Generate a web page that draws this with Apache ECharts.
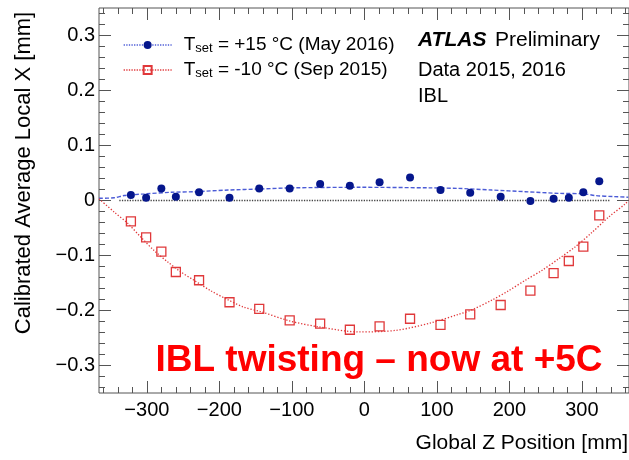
<!DOCTYPE html>
<html>
<head>
<meta charset="utf-8">
<script src="https://cdn.jsdelivr.net/npm/echarts@6/dist/echarts.min.js"></script>
<style>
  html, body { margin: 0; padding: 0; background: #fff; }
  #chart { width: 629px; height: 460px; }
</style>
</head>
<body>
<div id="chart"></div>
<script>
// module positions along the stave (mm)
const zPos = [-322, -301, -280, -260, -228, -186, -145, -103, -61, -20, 21, 63, 105, 146, 188, 229, 261, 282, 302, 324];
// calibrated average local X (mm)
const may2016 = [0.010, 0.005, 0.022, 0.007, 0.015, 0.005, 0.022, 0.022, 0.030, 0.027, 0.033, 0.042, 0.019, 0.014, 0.007, -0.001, 0.003, 0.005, 0.015, 0.035];
const sep2015 = [-0.038, -0.067, -0.093, -0.130, -0.145, -0.185, -0.197, -0.218, -0.224, -0.235, -0.229, -0.215, -0.226, -0.207, -0.190, -0.164, -0.132, -0.110, -0.084, -0.027];

// fit curves
const fitZ15 = [-366, -345, -331, -303, -266, -234, -188, -142, -99, -7, 90, 130, 176, 222, 268, 304, 318, 345, 364];
const fitX15 = [0.004, 0.005, 0.009, 0.012, 0.015, 0.016, 0.019, 0.021, 0.023, 0.024, 0.023, 0.022, 0.019, 0.016, 0.013, 0.012, 0.009, 0.007, 0.006];
const fitZ10 = [-366, -345, -326, -308, -290, -271, -253, -235, -212, -189, -166, -143, -103, -62, -7, 44, 90, 130, 148, 176, 199, 222, 245, 268, 291, 314, 337, 360, 364];
const fitX10 = [0.003, -0.021, -0.042, -0.067, -0.091, -0.112, -0.130, -0.145, -0.164, -0.180, -0.194, -0.202, -0.219, -0.230, -0.239, -0.236, -0.223, -0.207, -0.199, -0.181, -0.164, -0.145, -0.127, -0.106, -0.084, -0.058, -0.030, -0.006, 0.000];
const zeroZ = [-338, 338];

// axis ticks
const xMajor = [-300, -200, -100, 0, 100, 200, 300];
const xMinor = [-360, -340, -320, -280, -260, -240, -220, -180, -160, -140, -120, -80, -60, -40, -20,
                20, 40, 60, 80, 120, 140, 160, 180, 220, 240, 260, 280, 320, 340, 360];
const yMajor = [-0.3, -0.2, -0.1, 0, 0.1, 0.2, 0.3];
const yMinor = [-0.34, -0.32, -0.28, -0.26, -0.24, -0.22, -0.18, -0.16, -0.14, -0.12, -0.08, -0.06, -0.04, -0.02,
                0.02, 0.04, 0.06, 0.08, 0.12, 0.14, 0.16, 0.18, 0.22, 0.24, 0.26, 0.28, 0.32, 0.34];

const nameMay = 'Tset = +15 °C (May 2016)';
const nameSep = 'Tset = -10 °C (Sep 2015)';

const FONT = '"Liberation Sans", Arial, Helvetica, sans-serif';
const frameColor = '#555';
const blueDot = '#05168c';
const blueFit = '#4b5bd6';
const redSq = '#e0383a';

const chart = echarts.init(document.getElementById('chart'), null, {renderer: 'canvas'});

function xAx(pos, ticks, len, labels) {
    return {
        type: 'value', min: -366, max: 365, position: pos,
        axisLine: {show: false, onZero: false}, splitLine: {show: false},
        axisTick: {show: true, inside: true, length: len, customValues: ticks,
                   lineStyle: {color: frameColor, width: 1}},
        axisLabel: labels ? {
            show: true, customValues: ticks, margin: 7, color: '#000',
            fontSize: 20, fontFamily: FONT,
            formatter: v => String(v).replace('-', '\u2212')
        } : {show: false}
    };
}
function yAx(pos, ticks, len, labels) {
    return {
        type: 'value', min: -0.35, max: 0.35, position: pos,
        axisLine: {show: false, onZero: false}, splitLine: {show: false},
        axisTick: {show: true, inside: true, length: len, customValues: ticks,
                   lineStyle: {color: frameColor, width: 1}},
        axisLabel: labels ? {
            show: true, customValues: ticks, margin: 4, color: '#000',
            fontSize: 20, fontFamily: FONT,
            formatter: v => (v === 0 ? '0' : v.toFixed(1)).replace('-', '\u2212')
        } : {show: false}
    };
}

const legendText = {
    [nameMay]: '{t|T}{s|set}{t| = +15 °C (May 2016)}',
    [nameSep]: '{t|T}{s|set}{t| = -10 °C (Sep 2015)}'
};

const option = {
    backgroundColor: '#fff',
    animation: false,
    grid: {left: 99, right: 0, top: 8, bottom: 67, show: true,
           borderColor: frameColor, borderWidth: 1, backgroundColor: 'transparent'},
    xAxis: [xAx('bottom', xMajor, 12, true), xAx('bottom', xMinor, 6, false),
            xAx('top', xMajor, 12, false), xAx('top', xMinor, 6, false)],
    yAxis: [yAx('left', yMajor, 12, true), yAx('left', yMinor, 6, false),
            yAx('right', yMajor, 12, false), yAx('right', yMinor, 6, false)],
    legend: {
        orient: 'vertical', left: 123, top: 33, padding: 0,
        itemWidth: 48, itemHeight: 10, itemGap: 3,
        selectedMode: false,
        formatter: name => legendText[name],
        textStyle: {
            color: '#000', fontFamily: FONT, fontSize: 19, padding: [0, 0, 0, 7],
            rich: {
                t: {fontSize: 19, lineHeight: 20, fontFamily: FONT, color: '#000', verticalAlign: 'top'},
                s: {fontSize: 13, lineHeight: 13, fontFamily: FONT, color: '#000', verticalAlign: 'bottom', padding: [9, 0, 0, 0]}
            }
        },
        data: [
            {name: nameMay, lineStyle: {opacity: 1, width: 1.3, type: 'dotted', color: blueFit}},
            {name: nameSep, lineStyle: {opacity: 1, width: 1.3, type: 'dotted', color: redSq}}
        ]
    },
    graphic: [
        {type: 'text', left: 418, top: 30, style: {text: 'ATLAS', font: 'italic bold 21px ' + FONT, fill: '#000'}},
        {type: 'text', left: 495, top: 30, style: {text: 'Preliminary', font: '21px ' + FONT, fill: '#000'}},
        {type: 'text', left: 418, top: 60, style: {text: 'Data 2015, 2016', font: '20px ' + FONT, fill: '#000'}},
        {type: 'text', left: 418, top: 86, style: {text: 'IBL', font: '20px ' + FONT, fill: '#000'}},
        {type: 'text', right: 1, top: 433, style: {text: 'Global Z Position [mm]', font: '21px ' + FONT, fill: '#000'}},
        {type: 'text', x: 24, y: 173, rotation: Math.PI / 2,
         style: {text: 'Calibrated Average Local X [mm]', font: '22px ' + FONT, fill: '#000',
                 align: 'center', verticalAlign: 'middle'}},
        {type: 'text', x: 379, y: 361,
         style: {text: 'IBL twisting \u2013 now at +5C', font: 'bold 37px ' + FONT, fill: '#ff0000',
                 align: 'center', verticalAlign: 'middle'}, z: 100}
    ],
    series: [
        {
            type: 'line', name: 'zero', silent: true, symbol: 'none',
            data: zeroZ.map(z => [z, 0]),
            lineStyle: {color: '#444', width: 1.3, type: [1.3, 1.3]}
        },
        {
            type: 'line', name: 'fit15', silent: true, symbol: 'none', smooth: 0.3,
            data: fitZ15.map((z, i) => [z, fitX15[i]]),
            lineStyle: {color: blueFit, width: 1.4, type: [4, 2]}
        },
        {
            type: 'line', name: 'fit10', silent: true, symbol: 'none', smooth: 0.3,
            data: fitZ10.map((z, i) => [z, fitX10[i]]),
            lineStyle: {color: redSq, width: 1.3, type: [1.3, 1.8]}
        },
        {
            type: 'line', name: nameMay, symbol: 'circle', symbolSize: 8, showSymbol: true,
            data: zPos.map((z, i) => [z, may2016[i]]),
            itemStyle: {color: blueDot},
            lineStyle: {opacity: 0, color: blueFit},
            emphasis: {disabled: true}, z: 5
        },
        {
            type: 'line', name: nameSep, symbol: 'rect', symbolSize: 9, showSymbol: true,
            data: zPos.map((z, i) => [z, sep2015[i]]),
            itemStyle: {color: 'rgba(255,255,255,0)', borderColor: redSq, borderWidth: 1.3},
            lineStyle: {opacity: 0, color: redSq},
            emphasis: {disabled: true}, z: 5
        }
    ]
};

chart.setOption(option);
</script>
</body>
</html>
